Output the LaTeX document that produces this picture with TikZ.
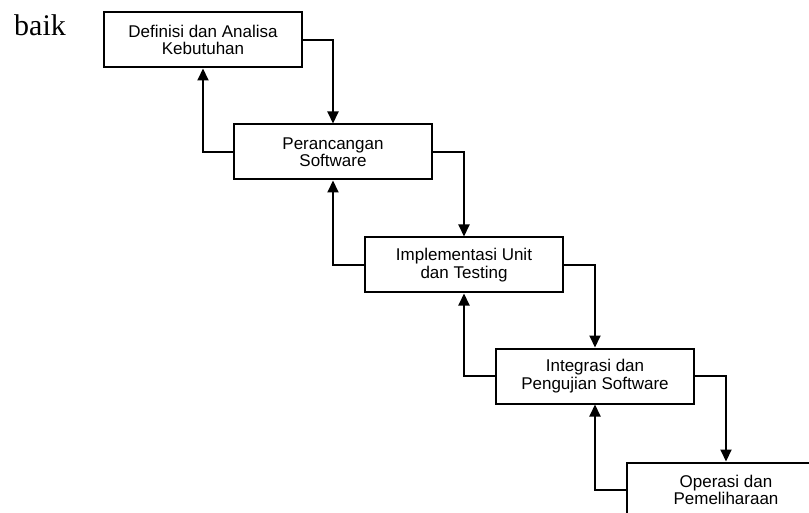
\documentclass[tikz,border=0pt]{standalone}
\usepackage{fontspec}
\setmainfont{Liberation Sans}
\newfontfamily\serifface{Liberation Serif}
\usetikzlibrary{arrows.meta}
\begin{document}
\begin{tikzpicture}[x=1pt,y=-1pt,
  phase/.style={draw,line width=2pt,rectangle,minimum width=198pt,minimum height=55pt,
    align=center,inner sep=0pt,font=\fontsize{17}{17.5}\selectfont},
  flow/.style={line width=2pt,-{Triangle[width=11pt,length=12pt]}}]
\useasboundingbox (0,0) rectangle (809,513);
\clip (0,0) rectangle (809,513);
\node[anchor=base west,inner sep=0pt,font=\serifface\fontsize{30}{30}\selectfont] (baik) at (14,35.5) {baik};
\node[phase] (b1) at (203,40) {Definisi dan Analisa\\Kebutuhan};
\node[phase] (b2) at (333,152) {Perancangan\\Software};
\node[phase] (b3) at (464,265) {Implementasi Unit\\dan Testing};
\node[phase] (b4) at (595,376) {Integrasi dan\\Pengujian Software};
\node[phase] (b5) at (726,490) {Operasi dan\\Pemeliharaan};
\draw[flow] (b1.east) -| (b2.north);
\draw[flow] (b2.west) -| (b1.south);
\draw[flow] (b2.east) -| (b3.north);
\draw[flow] (b3.west) -| (b2.south);
\draw[flow] (b3.east) -| (b4.north);
\draw[flow] (b4.west) -| (b3.south);
\draw[flow] (b4.east) -| (b5.north);
\draw[flow] (b5.west) -| (b4.south);
\end{tikzpicture}
\end{document}
